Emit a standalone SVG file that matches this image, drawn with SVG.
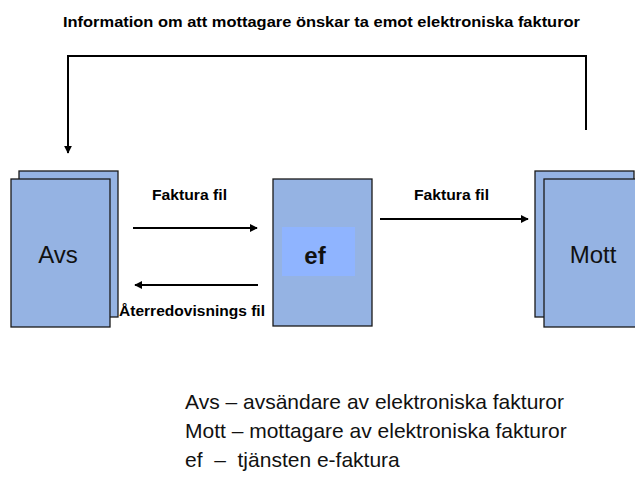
<svg xmlns="http://www.w3.org/2000/svg" width="635" height="484" viewBox="0 0 635 484">
<style>
.page{fill:#95b3e3;stroke:#1a1a1a;stroke-width:1.3}
.lbl{font-family:"Liberation Sans",Arial,sans-serif;font-weight:bold;font-size:15px;fill:#000}
.big{font-family:"Liberation Sans",Arial,sans-serif;font-size:24px;fill:#111}
.leg{font-family:"Liberation Sans",Arial,sans-serif;font-size:21px;fill:#111}
.con{fill:none;stroke:#000;stroke-width:2}
</style>
<defs>
<marker id="ah" viewBox="0 0 10 10" refX="9" refY="5" markerWidth="4" markerHeight="4" orient="auto" markerUnits="strokeWidth">
<path d="M0,0 L10,5 L0,10 z" fill="#000"/>
</marker>
</defs>
<rect width="635" height="484" fill="#fff"/>
<text class="lbl" x="63" y="27" font-size="16" textLength="517" lengthAdjust="spacingAndGlyphs">Information om att mottagare önskar ta emot elektroniska fakturor</text>
<g id="connectors">
<polyline class="con" points="586,130 586,56 68,56 68,153" marker-end="url(#ah)"/>
<line class="con" x1="133" y1="228" x2="257" y2="228" marker-end="url(#ah)"/>
<line class="con" x1="380" y1="219" x2="528" y2="219" marker-end="url(#ah)"/>
<line class="con" x1="258" y1="285" x2="135" y2="285" marker-end="url(#ah)"/>
<text class="lbl" x="152" y="200" textLength="75" lengthAdjust="spacingAndGlyphs">Faktura fil</text>
<text class="lbl" x="414" y="200" textLength="75" lengthAdjust="spacingAndGlyphs">Faktura fil</text>
<text class="lbl" x="119" y="316" textLength="146" lengthAdjust="spacingAndGlyphs">Återredovisnings fil</text>
</g>
<g id="avs">
<rect class="page" x="19" y="171" width="99" height="146"/>
<rect class="page" x="11" y="179" width="99" height="148"/>
<text class="big" x="58" y="263" text-anchor="middle">Avs</text>
</g>
<g id="ef">
<rect class="page" x="273" y="179" width="99" height="147"/>
<rect x="282" y="227" width="73" height="49" fill="#8fb4ff"/>
<text class="big" x="315" y="264" text-anchor="middle" font-weight="bold">ef</text>
</g>
<g id="mott">
<rect class="page" x="535" y="171" width="99" height="146"/>
<rect class="page" x="544" y="179" width="99" height="148"/>
<text class="big" x="593" y="263" text-anchor="middle" font-size="23">Mott</text>
</g>
<g id="legend">
<text class="leg" x="185" y="409">Avs – avsändare av elektroniska fakturor</text>
<text class="leg" x="185" y="438">Mott – mottagare av elektroniska fakturor</text>
<text class="leg" x="185" y="467" xml:space="preserve">ef  –  tjänsten e-faktura</text>
</g>
</svg>
